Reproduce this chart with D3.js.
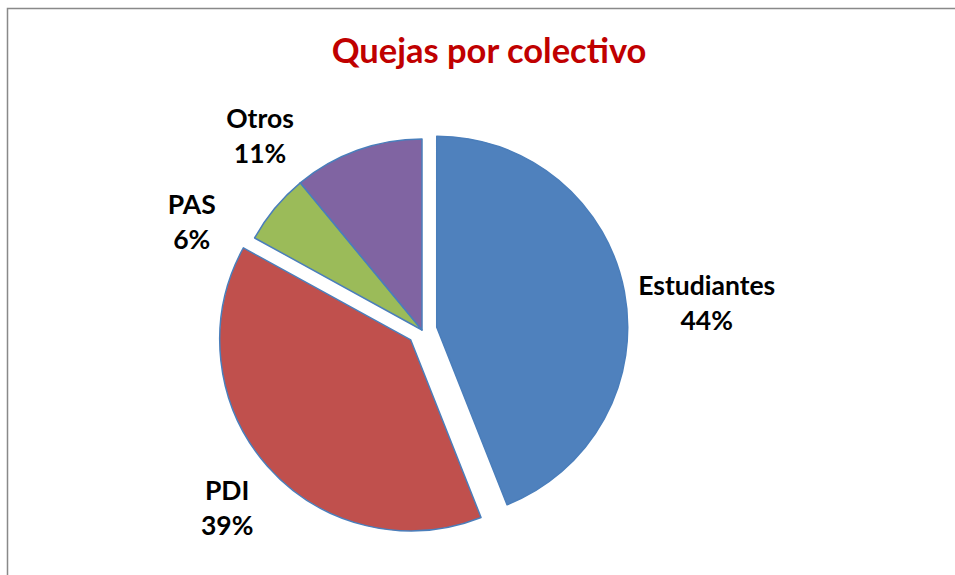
<!DOCTYPE html>
<html>
<head>
<meta charset="utf-8">
<script src="https://cdn.jsdelivr.net/npm/d3@7"></script>
<style>
  html, body { margin: 0; padding: 0; background: #fff; }
  svg { display: block; }
  text { font-family: Lato, "Open Sans", sans-serif; font-weight: bold; }
</style>
</head>
<body>
<svg width="955" height="575"></svg>
<script>
// data
var categories = ["Estudiantes", "PDI", "PAS", "Otros"];
var values = [44, 39, 6, 11];
var exploded = [true, true, false, false];
var colors = ["#4f81bd", "#c0504d", "#9bbb59", "#8064a2"];

// label layout: angle (deg, clockwise from top) and distance from slice centre
var labelAngle = [85, 227.5, 295, 320];
var labelDist = [271, 249, 254, 252];

var svg = d3.select("svg"),
    width = +svg.attr("width"),
    height = +svg.attr("height");

var cx = 422, cy = 330, radius = 191, explode = 15;
var lineGap = 35, capH = 18;

var pctFormat = d3.format(".0%");
var total = d3.sum(values);

// chart frame
svg.append("rect")
    .attr("x", 7.5)
    .attr("y", 8.5)
    .attr("width", width + 20)
    .attr("height", height + 20)
    .attr("fill", "none")
    .attr("stroke", "#898989")
    .attr("stroke-width", 1.5);

svg.append("text")
    .attr("x", 489)
    .attr("y", 63)
    .attr("text-anchor", "middle")
    .attr("font-size", 34.5)
    .attr("fill", "#c00000")
    .text("Quejas por colectivo");

var pie = d3.pie().sort(null).value(function(d) { return d.value; });
var arc = d3.arc().innerRadius(0).outerRadius(radius);

var data = categories.map(function(c, i) {
  return {name: c, value: values[i], explode: exploded[i], color: colors[i], i: i};
});

var arcs = pie(data);

arcs.forEach(function(d) {
  var mid = (d.startAngle + d.endAngle) / 2;
  var off = d.data.explode ? explode : 0;
  d.ox = cx + Math.sin(mid) * off;
  d.oy = cy - Math.cos(mid) * off;
});

var slice = svg.selectAll(".slice")
  .data(arcs)
  .enter().append("g")
    .attr("class", "slice")
    .attr("transform", function(d) { return "translate(" + d.ox + "," + d.oy + ")"; });

slice.append("path")
    .attr("d", arc)
    .attr("fill", function(d) { return d.data.color; })
    .attr("stroke", "#4a7ebb")
    .attr("stroke-width", 1.5)
    .attr("stroke-linejoin", "round");

var label = svg.selectAll(".label")
  .data(arcs)
  .enter().append("text")
    .attr("class", "label")
    .attr("text-anchor", "middle")
    .attr("font-size", 26.5)
    .attr("fill", "#000")
    .attr("transform", function(d) {
      var a = labelAngle[d.data.i] * Math.PI / 180,
          r = labelDist[d.data.i];
      var x = d.ox + Math.sin(a) * r,
          y = d.oy - Math.cos(a) * r;
      return "translate(" + x + "," + y + ")";
    });

label.append("tspan")
    .attr("x", 0)
    .attr("y", -lineGap / 2 + capH / 2)
    .text(function(d) { return d.data.name; });

label.append("tspan")
    .attr("x", 0)
    .attr("y", lineGap / 2 + capH / 2)
    .text(function(d) { return pctFormat(d.data.value / total); });
</script>
</body>
</html>
